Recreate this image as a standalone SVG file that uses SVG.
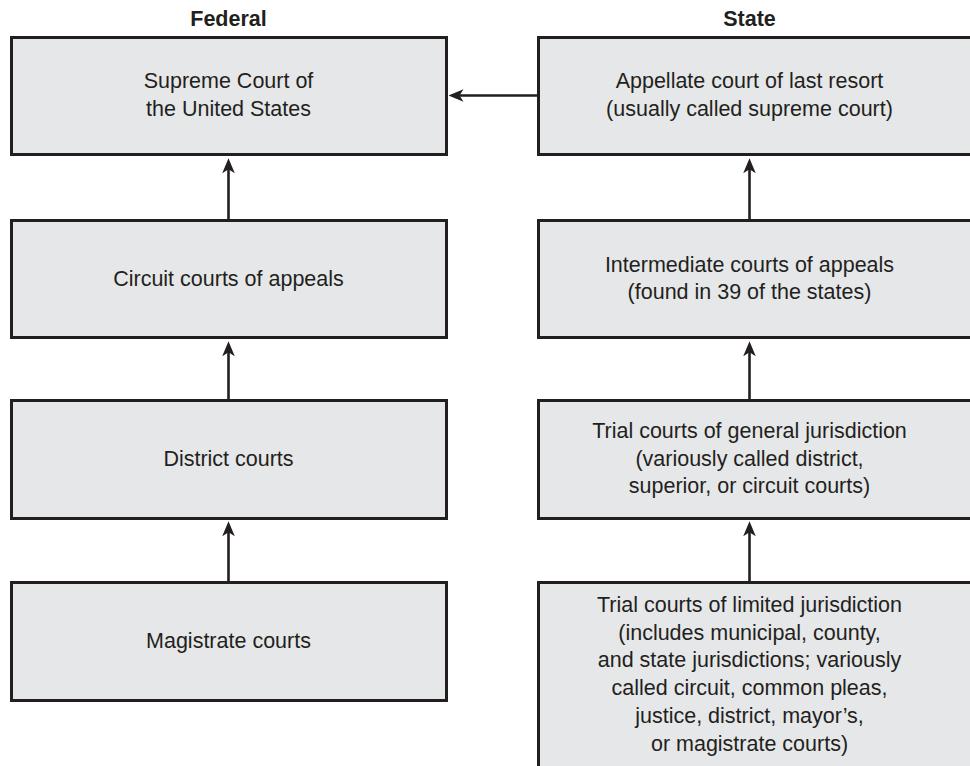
<svg xmlns="http://www.w3.org/2000/svg" width="970" height="766" viewBox="0 0 970 766">
  <defs>
    <!-- notched arrowhead; the line stops 6px short of the tip -->
    <marker id="head" viewBox="0 0 15 14" refX="9" refY="7" markerWidth="15" markerHeight="14" markerUnits="userSpaceOnUse" orient="auto">
      <path d="M15,7 L0,0.7 L4,7 L0,13.3 Z" fill="#231f20"/>
    </marker>
  </defs>
  <style>
    .box { fill: #e6e7e8; stroke: #231f20; stroke-width: 3; }
    .lbl { font-family: "Liberation Sans", Arial, sans-serif; font-size: 21.5px; fill: #231f20; text-anchor: middle; }
    .hdr { font-family: "Liberation Sans", Arial, sans-serif; font-size: 21.5px; font-weight: bold; fill: #231f20; text-anchor: middle; }
    .link { stroke: #231f20; stroke-width: 2.6; fill: none; marker-end: url(#head); }
  </style>
  <rect width="970" height="766" fill="#ffffff"/>

  <!-- column headings -->
  <text class="hdr" x="228.5" y="26">Federal</text>
  <text class="hdr" x="749.5" y="26">State</text>

  <!-- federal courts -->
  <g id="fed-supreme">
    <rect class="box" x="11.5" y="37.5" width="435" height="117"/>
    <text class="lbl" x="228.5" y="88.3">Supreme Court of</text>
    <text class="lbl" x="228.5" y="116">the United States</text>
  </g>
  <g id="fed-circuit">
    <rect class="box" x="11.5" y="220.5" width="435" height="117"/>
    <text class="lbl" x="228.5" y="285.5">Circuit courts of appeals</text>
  </g>
  <g id="fed-district">
    <rect class="box" x="11.5" y="400.5" width="435" height="118"/>
    <text class="lbl" x="228.5" y="465.5">District courts</text>
  </g>
  <g id="fed-magistrate">
    <rect class="box" x="11.5" y="582.5" width="435" height="118"/>
    <text class="lbl" x="228.5" y="647.5">Magistrate courts</text>
  </g>

  <!-- state courts -->
  <g id="state-supreme">
    <rect class="box" x="538.5" y="37.5" width="440" height="117"/>
    <text class="lbl" x="749.5" y="88.3">Appellate court of last resort</text>
    <text class="lbl" x="749.5" y="116">(usually called supreme court)</text>
  </g>
  <g id="state-intermediate">
    <rect class="box" x="538.5" y="220.5" width="440" height="117"/>
    <text class="lbl" x="749.5" y="271.5">Intermediate courts of appeals</text>
    <text class="lbl" x="749.5" y="299.3">(found in 39 of the states)</text>
  </g>
  <g id="state-general">
    <rect class="box" x="538.5" y="400.5" width="440" height="118"/>
    <text class="lbl" x="749.5" y="437.7">Trial courts of general jurisdiction</text>
    <text class="lbl" x="749.5" y="465.5">(variously called district,</text>
    <text class="lbl" x="749.5" y="493.3">superior, or circuit courts)</text>
  </g>
  <g id="state-limited">
    <rect class="box" x="538.5" y="582.5" width="440" height="200"/>
    <text class="lbl" x="749.5" y="611.7">Trial courts of limited jurisdiction</text>
    <text class="lbl" x="749.5" y="639.5">(includes municipal, county,</text>
    <text class="lbl" x="749.5" y="667.3">and state jurisdictions; variously</text>
    <text class="lbl" x="749.5" y="695.1">called circuit, common pleas,</text>
    <text class="lbl" x="749.5" y="722.9">justice, district, mayor’s,</text>
    <text class="lbl" x="749.5" y="750.7">or magistrate courts)</text>
  </g>

  <!-- appeal paths -->
  <g id="connectors">
    <line class="link" x1="228.5" y1="219" x2="228.5" y2="164.3"/>
    <line class="link" x1="228.5" y1="399" x2="228.5" y2="347.3"/>
    <line class="link" x1="228.5" y1="581" x2="228.5" y2="527.3"/>
    <line class="link" x1="749.5" y1="219" x2="749.5" y2="164.3"/>
    <line class="link" x1="749.5" y1="399" x2="749.5" y2="347.3"/>
    <line class="link" x1="749.5" y1="581" x2="749.5" y2="527.3"/>
    <line class="link" x1="537" y1="95.5" x2="454.5" y2="95.5"/>
  </g>
</svg>
